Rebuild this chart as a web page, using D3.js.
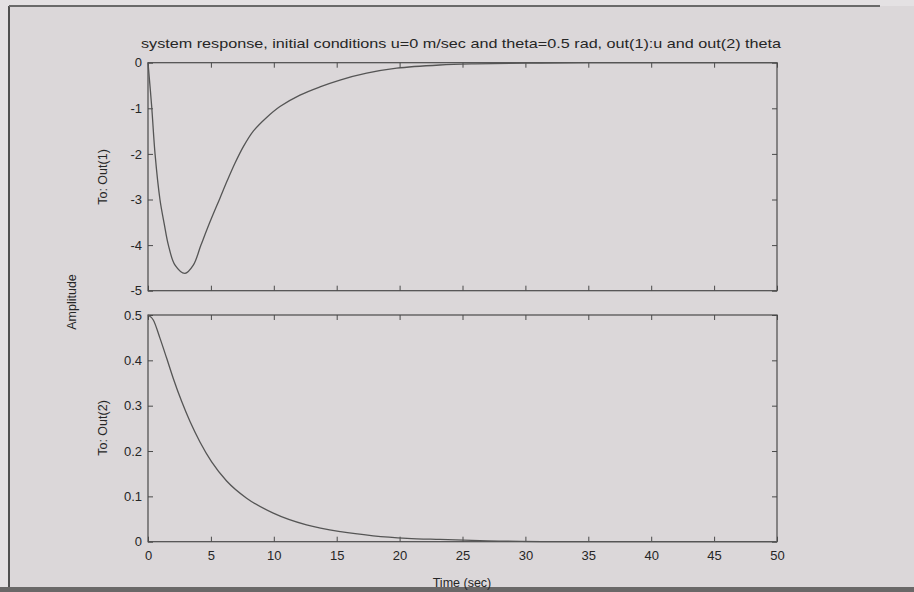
<!DOCTYPE html>
<html>
<head>
<meta charset="utf-8">
<script src="https://cdn.jsdelivr.net/npm/d3@7"></script>
<style>
  body { margin: 0; background: #e4e1e3; }
  svg { display: block; }
  text { font-family: "Liberation Sans", Arial, Helvetica, sans-serif; fill: #262626; }
</style>
</head>
<body>
<div id="chart"></div>
<script>
// time points and response values
var timeU = [0, 0.29, 0.56, 0.95, 1.3, 1.62, 2.15, 2.94, 3.6, 4.21, 4.93, 5.72, 6.31, 6.92, 7.58, 8.37, 9.43, 10.49, 12.08, 13.67, 15.26, 17.38, 19.77, 23.2, 26, 30, 35, 50];
var outU  = [0, -0.95, -2.0, -3.0, -3.55, -4.0, -4.44, -4.62, -4.44, -4.0, -3.49, -2.97, -2.58, -2.2, -1.84, -1.5, -1.2, -0.96, -0.71, -0.53, -0.38, -0.23, -0.12, -0.05, -0.025, -0.01, 0, 0];

var timeTheta = [0, 0.42, 0.95, 1.48, 2.01, 2.68, 3.34, 4.13, 5.06, 6.25, 7.84, 9.96, 12.6, 15.3, 17.9, 20.6, 23.2, 27, 32, 50];
var outTheta  = [0.5, 0.489, 0.449, 0.405, 0.36, 0.309, 0.265, 0.22, 0.176, 0.134, 0.096, 0.063, 0.037, 0.022, 0.013, 0.0075, 0.005, 0.002, 0, 0];

var xTicks = [0, 5, 10, 15, 20, 25, 30, 35, 40, 45, 50];
var uTicks = [-5, -4, -3, -2, -1, 0];
var uTickLabels = ["-5", "-4", "-3", "-2", "-1", "0"];
var thetaTicks = [0, 0.1, 0.2, 0.3, 0.4, 0.5];
var thetaTickLabels = ["0", "0.1", "0.2", "0.3", "0.4", "0.5"];

var titleText = "system response, initial conditions u=0 m/sec and theta=0.5 rad, out(1):u and out(2) theta";

var W = 914, H = 592;
var svg = d3.select("#chart").append("svg").attr("width", W).attr("height", H);

// scanned page look: paper, frame lines
svg.append("rect").attr("x", 9).attr("y", 6).attr("width", W - 9).attr("height", 581).attr("fill", "#dbd7d9");
svg.append("line").attr("x1", 9).attr("x2", 9).attr("y1", 6).attr("y2", 590)
  .attr("stroke", "#505050").attr("stroke-width", 2);
svg.append("line").attr("x1", 9).attr("x2", 880).attr("y1", 6).attr("y2", 6)
  .attr("stroke", "#6a6a6a").attr("stroke-width", 2);
svg.append("rect").attr("x", 0).attr("y", 587).attr("width", W).attr("height", 5).attr("fill", "#6a6868");

var x = d3.scaleLinear().domain([0, 50]).range([148, 777]);
var yU = d3.scaleLinear().domain([-5, 0]).range([290.7, 62.7]);
var yTheta = d3.scaleLinear().domain([0, 0.5]).range([541.7, 315]);

var axisColor = "#4a4a4a";

function drawPanel(y, ticks, labels, showXLabels) {
  var g = svg.append("g");
  var y0 = y.range()[0], y1 = y.range()[1];

  // bottom
  g.append("g").attr("transform", "translate(0," + y0 + ")")
    .call(d3.axisBottom(x).tickValues(xTicks).tickSize(-5).tickPadding(9)
      .tickFormat(function (d, i) { return showXLabels ? String(xTicks[i]) : ""; }));
  // top
  g.append("g").attr("transform", "translate(0," + y1 + ")")
    .call(d3.axisTop(x).tickValues(xTicks).tickSize(-5).tickFormat(""));
  // left
  g.append("g").attr("transform", "translate(" + x.range()[0] + ",0)")
    .call(d3.axisLeft(y).tickValues(ticks).tickSize(-5).tickPadding(6)
      .tickFormat(function (d, i) { return labels[i]; }));
  // right
  g.append("g").attr("transform", "translate(" + x.range()[1] + ",0)")
    .call(d3.axisRight(y).tickValues(ticks).tickSize(-5).tickFormat(""));

  g.selectAll(".domain").remove();
  g.selectAll(".tick line").attr("stroke", axisColor).attr("stroke-width", 1);
  g.selectAll(".tick text").style("font-size", "13px").attr("fill", "#262626")
    .style("font-family", "'Liberation Sans', Arial, sans-serif");

  // box
  g.append("rect")
    .attr("x", x.range()[0]).attr("y", y1)
    .attr("width", x.range()[1] - x.range()[0]).attr("height", y0 - y1)
    .attr("fill", "none").attr("stroke", axisColor).attr("stroke-width", 1.2);
  return g;
}

drawPanel(yU, uTicks, uTickLabels, false);
drawPanel(yTheta, thetaTicks, thetaTickLabels, true);

// curves
var lineU = d3.line()
  .x(function (d, i) { return x(timeU[i]); })
  .y(function (d) { return yU(d); })
  .curve(d3.curveCatmullRom.alpha(0.5));
svg.append("path").datum(outU).attr("d", lineU)
  .attr("fill", "none").attr("stroke", "#555").attr("stroke-width", 1.3);

var lineTheta = d3.line()
  .x(function (d, i) { return x(timeTheta[i]); })
  .y(function (d) { return yTheta(d); })
  .curve(d3.curveMonotoneX);
svg.append("path").datum(outTheta).attr("d", lineTheta)
  .attr("fill", "none").attr("stroke", "#555").attr("stroke-width", 1.3);

// title
svg.append("text")
  .attr("x", 141).attr("y", 48)
  .attr("textLength", 640).attr("lengthAdjust", "spacingAndGlyphs")
  .style("font-size", "13.5px")
  .text(titleText);

// y labels
svg.append("text")
  .attr("transform", "translate(107,177) rotate(-90)")
  .attr("text-anchor", "middle")
  .style("font-size", "12.5px")
  .text("To: Out(1)");
svg.append("text")
  .attr("transform", "translate(107,428) rotate(-90)")
  .attr("text-anchor", "middle")
  .style("font-size", "12.5px")
  .text("To: Out(2)");
svg.append("text")
  .attr("transform", "translate(76,302) rotate(-90)")
  .attr("text-anchor", "middle")
  .style("font-size", "12.5px")
  .text("Amplitude");

// x label
svg.append("text")
  .attr("x", 462).attr("y", 587)
  .attr("text-anchor", "middle")
  .style("font-size", "12.5px")
  .text("Time (sec)");
</script>
</body>
</html>
